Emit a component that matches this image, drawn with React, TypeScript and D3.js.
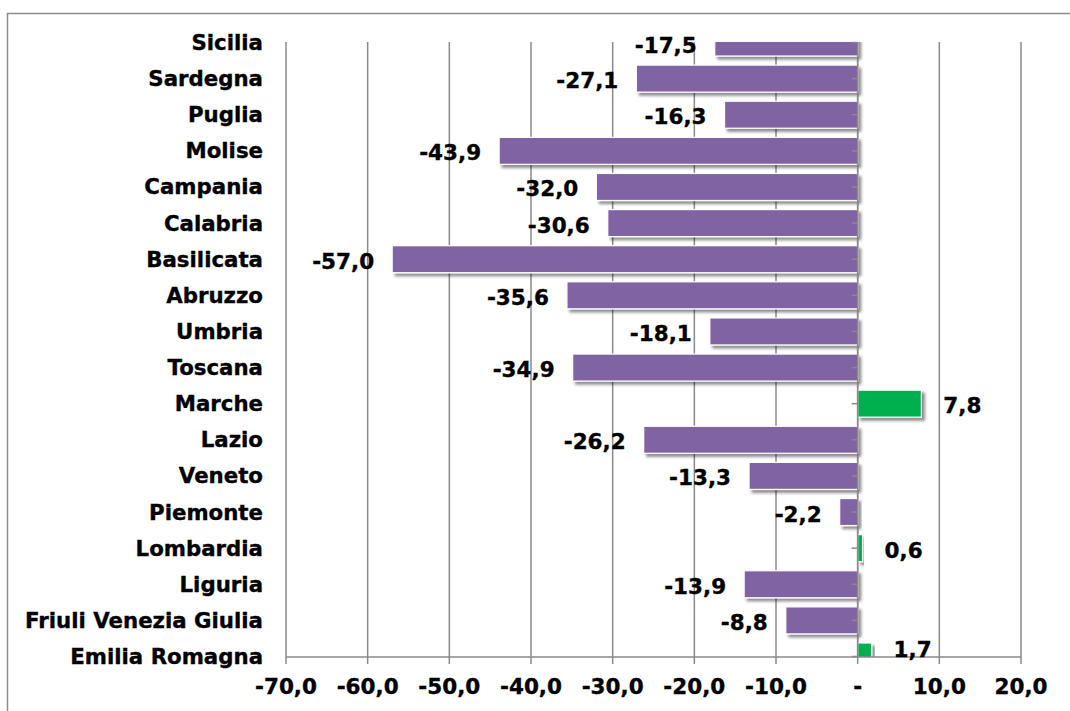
import React from "react";
import * as d3 from "d3";

// Regions, top to bottom
const regions = [
  "Sicilia",
  "Sardegna",
  "Puglia",
  "Molise",
  "Campania",
  "Calabria",
  "Basilicata",
  "Abruzzo",
  "Umbria",
  "Toscana",
  "Marche",
  "Lazio",
  "Veneto",
  "Piemonte",
  "Lombardia",
  "Liguria",
  "Friuli Venezia Giulia",
  "Emilia Romagna",
];

// Percentage change per region
const values = [
  -17.5, -27.1, -16.3, -43.9, -32.0, -30.6, -57.0, -35.6, -18.1, -34.9, 7.8,
  -26.2, -13.3, -2.2, 0.6, -13.9, -8.8, 1.7,
];

const xTicks = [-70, -60, -50, -40, -30, -20, -10, 0, 10, 20];

const W = 1070;
const H = 711;
const FONT = "'DejaVu Sans', Verdana, sans-serif";
const NEG = "#8064A2";
const POS = "#00B050";
const GRID = "#8a8a8a";

const fmt = (v: number) => (v === 0 ? "-" : v.toFixed(1).replace(".", ","));

export default function App() {
  const plotTop = 42;
  const plotBottom = 657;
  const x = d3.scaleLinear().domain([-70, 20]).range([286, 1021]);
  const y = d3.scalePoint<string>().domain(regions).range([42.5, 656.5]);
  const barH = 27;
  const x0 = x(0);

  const textProps = {
    fill: "#000",
    stroke: "#000",
    strokeWidth: 0.35,
    dominantBaseline: "central" as const,
  };

  return (
    <svg
      width={W}
      height={H}
      style={{ position: "absolute", left: 0, top: 0, background: "#fff" }}
      fontFamily={FONT}
      fontWeight="bold"
    >
      <defs>
        <clipPath id="plotClip">
          <rect x={0} y={plotTop} width={W} height={plotBottom - plotTop} />
        </clipPath>
        <filter id="barShadow" x="-10%" y="-30%" width="130%" height="180%">
          <feGaussianBlur in="SourceAlpha" stdDeviation="1.6" />
          <feOffset dx="2.5" dy="2.5" result="off" />
          <feComponentTransfer>
            <feFuncA type="linear" slope="0.45" />
          </feComponentTransfer>
          <feMerge>
            <feMergeNode />
            <feMergeNode in="SourceGraphic" />
          </feMerge>
        </filter>
      </defs>

      {/* chart frame */}
      <rect
        x={7.5}
        y={13.5}
        width={W + 20}
        height={H + 20}
        fill="#fff"
        stroke="#8c8c8c"
        strokeWidth={1.5}
      />

      {/* vertical gridlines */}
      {xTicks.map((t) => (
        <line
          key={"g" + t}
          x1={x(t)}
          x2={x(t)}
          y1={plotTop}
          y2={plotBottom}
          stroke={GRID}
          strokeWidth={1.5}
        />
      ))}

      {/* bars */}
      <g clipPath="url(#plotClip)">
        {regions.map((r, i) => {
          const v = values[i];
          const cy = y(r)!;
          const x1 = Math.min(x(v), x0);
          const w = Math.abs(x(v) - x0);
          return (
            <rect
              key={r}
              x={x1}
              y={cy - barH / 2}
              width={w}
              height={barH}
              fill={v < 0 ? NEG : POS}
              stroke="#ffffff"
              strokeWidth={1.2}
              filter="url(#barShadow)"
            />
          );
        })}
      </g>

      {/* category axis at zero with tick marks */}
      <line x1={x0} x2={x0} y1={plotTop} y2={plotBottom} stroke={GRID} strokeWidth={1.5} />
      {regions.map((r) => (
        <line
          key={"ct" + r}
          x1={x0 - 6}
          x2={x0}
          y1={y(r)!}
          y2={y(r)!}
          stroke={GRID}
          strokeWidth={1.5}
        />
      ))}

      {/* value axis */}
      <line x1={x(-70)} x2={x(20)} y1={plotBottom} y2={plotBottom} stroke={GRID} strokeWidth={1.5} />
      {xTicks.map((t) => (
        <line
          key={"t" + t}
          x1={x(t)}
          x2={x(t)}
          y1={plotBottom}
          y2={plotBottom + 7}
          stroke={GRID}
          strokeWidth={1.5}
        />
      ))}
      {xTicks.map((t) => (
        <text
          key={"tl" + t}
          x={x(t)}
          y={686}
          textAnchor="middle"
          fontSize={21.5}
          {...textProps}
        >
          {fmt(t)}
        </text>
      ))}

      {/* category labels */}
      {regions.map((r) => (
        <text
          key={"cl" + r}
          x={263}
          y={y(r)!}
          textAnchor="end"
          fontSize={21.3}
          {...textProps}
        >
          {r}
        </text>
      ))}

      {/* data labels, kept inside the plot area */}
      {regions.map((r, i) => {
        const v = values[i];
        const neg = v < 0;
        const ly = Math.min(Math.max(y(r)! + 2, plotTop + 3), plotBottom - 8);
        return (
          <text
            key={"dl" + r}
            x={neg ? x(v) - 18 : x(v) + 22}
            y={ly}
            textAnchor={neg ? "end" : "start"}
            fontSize={21.5}
            {...textProps}
          >
            {fmt(v)}
          </text>
        );
      })}
    </svg>
  );
}
